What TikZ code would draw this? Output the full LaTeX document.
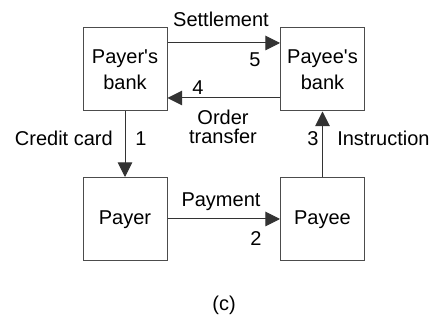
\documentclass[tikz,border=0pt]{standalone}
\usepackage{fontspec}
\setmainfont{Liberation Sans}
\usetikzlibrary{arrows.meta,calc}

\begin{document}
\begin{tikzpicture}[x=0.75pt,y=0.75pt,yscale=-1,xscale=1,
  font=\fontsize{15pt}{19.3pt}\selectfont,
  box/.style={draw=black!70, line width=0.75pt, minimum width=63pt, minimum height=62.25pt, align=center, inner sep=0pt},
  flow/.style={draw=black!80, line width=0.75pt, -{Triangle[length=11pt,width=11pt]}},
  txt/.style={inner sep=0pt}]
\useasboundingbox (0,0) rectangle (436,320);

% Boxes
\node [box, text depth=-4.5pt] (payerbank) at (125,69.5) {Payer\textquotesingle s\\bank};
\node [box, text depth=-4.5pt] (payeebank) at (322.5,69.5) {Payee\textquotesingle s\\bank};
\node [box, text depth=1.7pt] (payer) at (125,219) {Payer};
\node [box, text depth=1.7pt] (payee) at (322.5,219) {Payee};

% Connectors
\draw [flow] ($(payerbank.east)+(0,-26.5)$) -- ($(payeebank.west)+(0,-26.5)$);
\draw [flow] ($(payeebank.west)+(0,28.5)$) -- ($(payerbank.east)+(0,28.5)$);
\draw [flow] (payerbank) -- (payer);
\draw [flow] (payee) -- (payeebank);
\draw [flow] (payer) -- (payee);

% Text Nodes
\node [txt, anchor=base] (settle) at (221,27) {Settlement};
\node [txt, anchor=base] (n5) at (255,67) {5};
\node [txt, anchor=base] (n4) at (198,95) {4};
\node [txt, align=center, font=\fontsize{15pt}{13.75pt}\selectfont] (order) at (223,127) {Order\\transfer};
\node [txt, anchor=base east] (credit) at (113,146) {Credit card};
\node [txt, anchor=base] (n1) at (141,146) {1};
\node [txt, anchor=base] (n3) at (313,146) {3};
\node [txt, anchor=base west] (instr) at (337,146) {Instruction};
\node [txt, anchor=base] (pay) at (221,207) {Payment};
\node [txt, anchor=base] (n2) at (256,246) {2};
\node [txt, anchor=base] (caption) at (224,311) {(c)};

\end{tikzpicture}
\end{document}
